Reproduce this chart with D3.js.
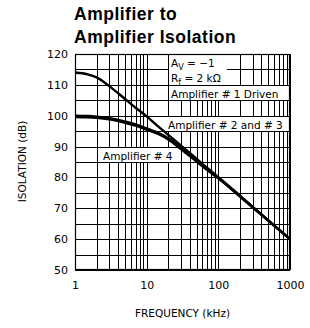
<!DOCTYPE html>
<html>
<head>
<meta charset="utf-8">
<script src="https://cdn.jsdelivr.net/npm/d3@7"></script>
<style>
  body { margin: 0; background: #fff; }
  svg { display: block; }
  .tick text { font-family: "DejaVu Sans", sans-serif; }
</style>
</head>
<body>
<div id="chart"></div>
<script>
// Values (kHz, dB)
var freq = [1, 1.5, 2, 3, 5, 7, 10, 15, 20, 30, 50, 70, 100, 200, 500, 1000];
var amp1 = [114, 113.4, 112.4, 109.6, 105.4, 102.6, 99.8, 96.2, 93.8, 90.4, 86, 83.1, 80.1, 74.1, 66.1, 60];
var amp23 = [100, 99.9, 99.7, 99.2, 98.1, 97.2, 95.9, 94.3, 92.7, 89.6, 85.4, 82.7, 79.9, 74, 66, 60];
var amp4 = [99.6, 99.5, 99.3, 98.8, 97.7, 96.8, 95.5, 93.9, 92.3, 89.2, 85.1, 82.4, 79.7, 73.8, 65.9, 60];
var xTicks = [1, 10, 100, 1000];
var yTicks = [50, 60, 70, 80, 90, 100, 110, 120];

(function() {
  'use strict';

  var width = 310,
      height = 328,
      left = 75,
      right = 290,
      top = 54,
      bottom = 270;

  var svg = d3.select('#chart').append('svg')
    .attr('width', width)
    .attr('height', height);

  var x = d3.scaleLog().domain([1, 1000]).range([left, right]);
  var y = d3.scaleLinear().domain([50, 120]).range([bottom, top]);

  // minor grid: every 1..9 in each decade, every 5 dB
  var xGrid = [];
  [1, 10, 100].forEach(function(d) {
    for (var i = 1; i < 10; i++) { xGrid.push(d * i); }
  });
  xGrid.push(1000);
  var yGrid = d3.range(50, 121, 5);

  var crisp = function(v) { return Math.round(v) + 0.5; };

  var grid = svg.append('g').attr('class', 'grid')
    .attr('stroke', '#000')
    .attr('stroke-width', 1);

  grid.selectAll('line.v').data(xGrid).enter().append('line')
    .attr('class', 'v')
    .attr('x1', function(d) { return crisp(x(d)); })
    .attr('x2', function(d) { return crisp(x(d)); })
    .attr('y1', top)
    .attr('y2', bottom);

  grid.selectAll('line.h').data(yGrid).enter().append('line')
    .attr('class', 'h')
    .attr('x1', left)
    .attr('x2', right)
    .attr('y1', function(d) { return crisp(y(d)); })
    .attr('y2', function(d) { return crisp(y(d)); });

  // curves
  var line = d3.line()
    .x(function(d) { return x(d[0]); })
    .y(function(d) { return y(d[1]); })
    .curve(d3.curveMonotoneX);

  [amp1, amp23, amp4].forEach(function(series) {
    svg.append('path')
      .datum(d3.zip(freq, series))
      .attr('fill', 'none')
      .attr('stroke', '#000')
      .attr('stroke-width', 2.4)
      .attr('d', line);
  });

  // annotation boxes: white patches over the grid, text on top
  var labelFont = '"DejaVu Sans", sans-serif';
  var notes = svg.append('g').attr('class', 'notes');

  var box = function(x0, x1, y0, y1) {
    notes.append('rect')
      .attr('x', x0)
      .attr('y', y0)
      .attr('width', x1 - x0)
      .attr('height', y1 - y0)
      .attr('fill', '#fff');
  };

  box(crisp(x(20)) + 0.5, 227, top + 1, crisp(y(110)) - 0.5);
  box(crisp(x(20)) + 0.5, right, crisp(y(110)) + 0.5, crisp(y(105)) - 0.5);
  box(165, right, crisp(y(100)) + 0.5, crisp(y(95)) - 0.5);
  box(99, 172, crisp(y(90)) + 0.5, crisp(y(85)) - 0.5);

  var addText = function(tx, ty, parts) {
    var t = notes.append('text')
      .attr('x', tx)
      .attr('y', ty)
      .attr('font-family', labelFont)
      .attr('font-size', 10.5)
      .attr('fill', '#000');
    parts.forEach(function(p) {
      var s = t.append('tspan').text(p[0]);
      if (p[1] === 'sub') {
        s.attr('font-size', 8).attr('dy', 2.5);
      } else if (p[1] === 'up') {
        s.attr('dy', -2.5);
      }
    });
    return t;
  };

  addText(171, 67, [['A'], ['V', 'sub'], [' = \u22121', 'up']]);
  addText(171, 82, [['R'], ['f', 'sub'], [' = 2 k\u03A9', 'up']]);
  addText(171, 98, [['Amplifier # 1  Driven']]);
  addText(168, 128.5, [['Amplifier # 2  and  # 3']]);
  addText(103, 159.5, [['Amplifier # 4']]);

  // frame
  svg.append('rect')
    .attr('x', left + 0.5)
    .attr('y', top + 0.5)
    .attr('width', right - left - 1)
    .attr('height', bottom - top - 1)
    .attr('fill', 'none')
    .attr('stroke', '#000')
    .attr('stroke-width', 1.2);

  // axes (labels only)
  var xAxis = d3.axisBottom(x)
    .tickValues(xTicks)
    .tickFormat(d3.format('d'))
    .tickSize(0)
    .tickPadding(11);
  svg.append('g')
    .attr('transform', 'translate(0,' + bottom + ')')
    .call(xAxis)
    .call(function(g) { g.select('.domain').remove(); })
    .selectAll('text').attr('font-size', 11);

  var yAxis = d3.axisLeft(y)
    .tickValues(yTicks)
    .tickSize(0)
    .tickPadding(7);
  svg.append('g')
    .attr('transform', 'translate(' + left + ',0)')
    .call(yAxis)
    .call(function(g) { g.select('.domain').remove(); })
    .selectAll('text').attr('font-size', 11);

  // titles
  var title = svg.append('text')
    .attr('font-family', '"Liberation Sans", Arial, sans-serif')
    .attr('font-weight', 'bold')
    .attr('font-size', 17.5)
    .attr('letter-spacing', 0.5)
    .attr('fill', '#000');
  title.append('tspan').attr('x', 74).attr('y', 20).text('Amplifier to');
  title.append('tspan').attr('x', 74).attr('y', 43).text('Amplifier Isolation');

  svg.append('text')
    .attr('x', 182.5)
    .attr('y', 317)
    .attr('text-anchor', 'middle')
    .attr('font-family', labelFont)
    .attr('font-size', 10.5)
    .text('FREQUENCY (kHz)');

  svg.append('text')
    .attr('transform', 'translate(26,' + 161.5 + ') rotate(-90)')
    .attr('text-anchor', 'middle')
    .attr('font-family', labelFont)
    .attr('font-size', 10.5)
    .text('ISOLATION (dB)');
})();
</script>
</body>
</html>
